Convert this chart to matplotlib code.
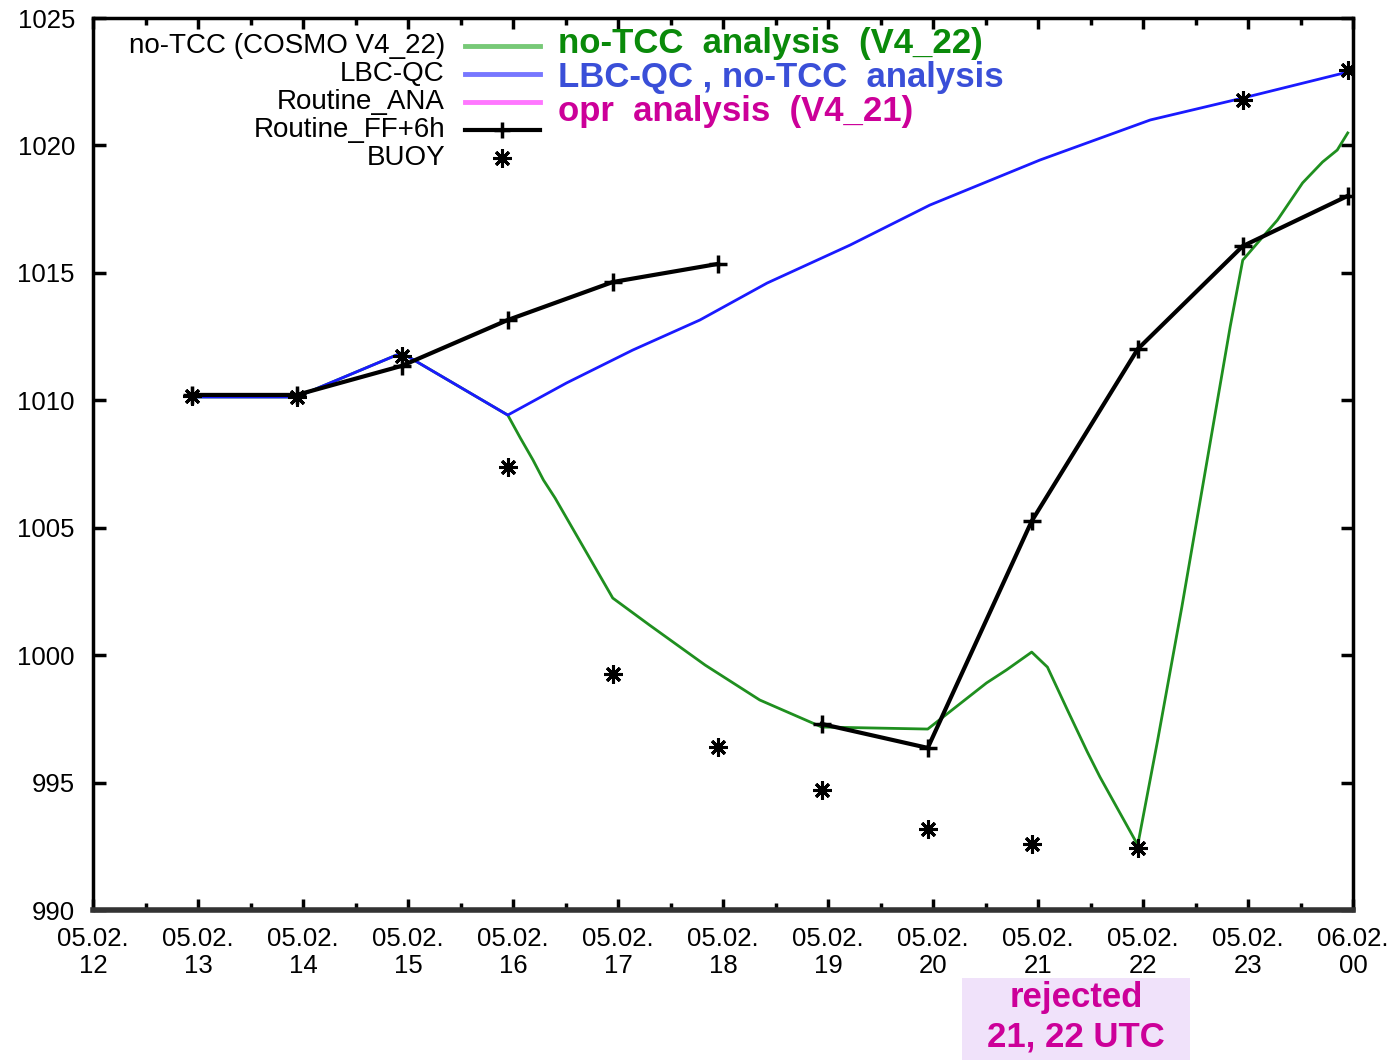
import matplotlib
matplotlib.use("Agg")
import matplotlib.pyplot as plt
from matplotlib.patches import Rectangle
import numpy as np

plt.rcParams['font.family'] = ['Liberation Sans', 'DejaVu Sans']

# hours since 05.02. 00 UTC (24 = 06.02. 00 UTC)
tick_hours = list(range(12, 25))
tick_labels = ["05.02.\n%d" % h for h in range(12, 24)] + ["06.02.\n00"]

# no-TCC (COSMO V4_22)
notcc_t = [12.94, 13.94, 14.94, 15.95, 16.07, 16.19, 16.29, 16.40, 16.95, 17.30, 17.83,
           18.35, 18.94, 19.95, 20.51, 20.70, 20.94, 21.09, 21.28, 21.47, 21.59, 21.78,
           21.95, 22.14, 22.37, 22.83, 22.95, 23.14, 23.28, 23.52, 23.71, 23.85, 23.95]
notcc_p = [1010.13, 1010.13, 1011.86, 1009.42, 1008.52, 1007.66, 1006.87, 1006.17, 1002.24,
           1001.18, 999.61, 998.24, 997.18, 997.10, 998.91, 999.42, 1000.12, 999.53, 997.85,
           996.20, 995.22, 993.81, 992.55, 996.67, 1001.89, 1012.88, 1015.50, 1016.41,
           1017.07, 1018.53, 1019.35, 1019.82, 1020.49]

# LBC-QC
lbc_t = [12.94, 13.94, 14.94, 15.95, 16.51, 17.14, 17.78, 18.42, 19.21, 19.97, 21.02,
         22.07, 22.95, 23.95]
lbc_p = [1010.13, 1010.13, 1011.86, 1009.42, 1010.68, 1011.97, 1013.15, 1014.60, 1016.09,
         1017.66, 1019.43, 1021.00, 1021.86, 1022.88]

# Routine_ANA (hidden under the other curves)
ana_t = [12.94, 13.94]
ana_p = [1010.20, 1010.20]

# Routine_FF+6h (gap between 18 and 19 UTC)
ff_t = [12.94, 13.94, 14.94, 15.95, 16.95, 17.95, 18.45, 18.94, 19.95, 20.94, 21.95,
        22.95, 23.95]
ff_p = [1010.21, 1010.21, 1011.35, 1013.15, 1014.64, 1015.35, np.nan, 997.30, 996.36,
        1005.26, 1012.01, 1016.05, 1018.02]

# BUOY
buoy_t = [12.94, 13.94, 14.94, 15.95, 16.95, 17.95, 18.94, 19.95, 20.94, 21.95, 22.95, 23.95]
buoy_p = [1010.17, 1010.13, 1011.74, 1007.38, 999.26, 996.40, 994.71, 993.18, 992.59,
          992.43, 1021.78, 1022.96]

fig = plt.figure(figsize=(13.98, 10.6), dpi=100)
ax = fig.add_axes([93/1398, 1-910/1060, 1260/1398, 892/1060])

ax.plot(ana_t, ana_p, color='#ff44ff', lw=2, zorder=2)
ax.plot(notcc_t, notcc_p, color='#1f8f1f', lw=2, zorder=3)
ax.plot(lbc_t, lbc_p, color='#1a1aff', lw=2, zorder=4)
ax.plot(ff_t, ff_p, color='black', lw=3, marker='+', ms=13, mew=2.5, zorder=5)
ax.plot(buoy_t, buoy_p, ls='none', color='black', marker=(8, 2, 0), ms=13, mew=2.2, zorder=6)

ax.set_xlim(12, 24)
ax.set_ylim(990, 1025)
ax.set_xticks(tick_hours)
ax.set_xticklabels(tick_labels, fontsize=18.5, linespacing=1.2)
ax.set_xticks(np.arange(12.5, 24, 1), minor=True)
ax.set_yticks(range(990, 1026, 5))
ax.tick_params(axis='y', labelsize=18.5)
ax.tick_params(which='both', direction='in', top=True, right=True, width=2.5)
ax.tick_params(axis='x', which='major', length=8, pad=12)
ax.tick_params(axis='x', which='minor', length=5)
ax.tick_params(axis='y', which='major', length=9, pad=13)
for s in ax.spines.values():
    s.set_linewidth(2.5)
ax.spines['bottom'].set_linewidth(4)
ax.spines['bottom'].set_color('#333333')

# legend, drawn by hand like the gnuplot key
leg_labels = ["no-TCC (COSMO V4_22)", "LBC-QC", "Routine_ANA", "Routine_FF+6h", "BUOY"]
leg_colors = ['#77c977', '#7777ff', '#ff77ff', 'black', 'black']
tr = ax.transAxes
for i, (lab, col) in enumerate(zip(leg_labels, leg_colors)):
    yy = 1 - (28 + 28 * i) / 892
    ax.text((445 - 93) / 1260, yy, lab, transform=tr, ha='right', va='center', fontsize=20)
    if i < 3:
        ax.plot([(465 - 93) / 1260, (540 - 93) / 1260], [yy, yy], transform=tr,
                color=col, lw=3.5, clip_on=False)
    elif i == 3:
        ax.plot([(465 - 93) / 1260, (540 - 93) / 1260], [yy, yy], transform=tr,
                color=col, lw=3, clip_on=False)
        ax.plot([(502 - 93) / 1260], [yy], transform=tr, color=col, marker='+',
                ms=12, mew=2.5)
    else:
        ax.plot([(502 - 93) / 1260], [yy], transform=tr, color=col,
                marker=(8, 2, 0), ms=13, mew=2.2)

# coloured annotations
fig.text(558/1398, 1-44/1060, "no-TCC  analysis  (V4_22)", color='#0a8a0a',
         fontsize=25, fontweight='bold', va='center', ha='left')
fig.text(558/1398, 1-77/1060, "LBC-QC , no-TCC  analysis", color='#3a4fd8',
         fontsize=25, fontweight='bold', va='center', ha='left')
fig.text(558/1398, 1-111/1060, "opr  analysis  (V4_21)", color='#cc0099',
         fontsize=25, fontweight='bold', va='center', ha='left')

fig.patches.append(Rectangle((962/1398, 0), 228/1398, 82/1060, transform=fig.transFigure,
                             facecolor='#f0e2fa', edgecolor='none', zorder=0))
fig.text(1076/1398, 1-998/1060, "rejected", color='#cc0099', fontsize=25,
         fontweight='bold', ha='center', va='center')
fig.text(1076/1398, 1-1037/1060, "21, 22 UTC", color='#cc0099', fontsize=25,
         fontweight='bold', ha='center', va='center')

fig.savefig("out.png", dpi=100)
